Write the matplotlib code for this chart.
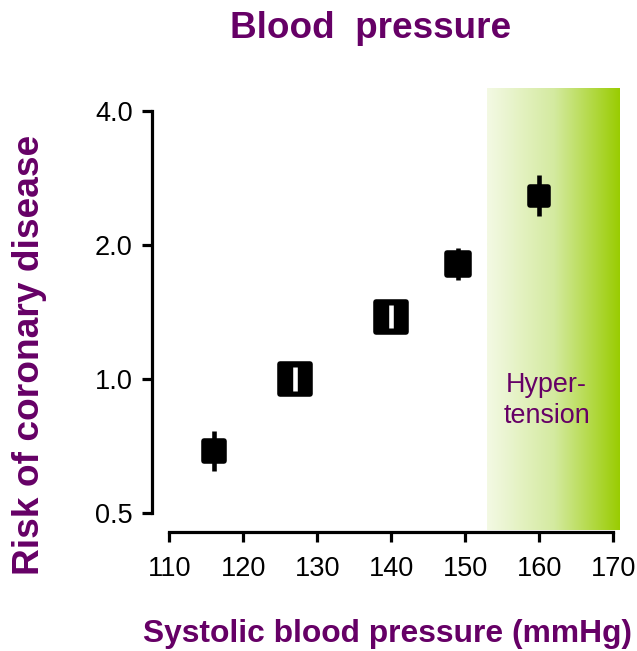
import numpy as np
import matplotlib
matplotlib.use("Agg")
import matplotlib.pyplot as plt
from matplotlib.markers import MarkerStyle
from matplotlib.colors import LinearSegmentedColormap

# data
bp = [116, 127, 140, 149, 160]
risk = [0.69, 1.0, 1.38, 1.81, 2.58]
risk_lo = [0.62, 0.94, 1.30, 1.67, 2.32]
risk_hi = [0.765, 1.065, 1.47, 1.97, 2.87]
box_size = [14, 22, 22, 16, 13]          # marker size (pt), roughly study weight
bar_color = ["black", "white", "white", "black", "black"]

hyper_start, hyper_end = 152.9, 170.9
purple = "#660066"

plt.rcParams["font.family"] = ["Liberation Sans", "DejaVu Sans"]

fig = plt.figure(figsize=(6.37, 6.51), dpi=100)
ax = fig.add_axes([0.2386, 0.1828, 0.7358, 0.688])
ax.set_yscale("log")
ax.set_xlim(107.66, 171)
ax.set_ylim(0.453, 4.6)

# hypertension band, pale -> bright green
cmap = LinearSegmentedColormap.from_list("hyp", ["#f3f9e3", "#d4eaa0", "#99cc00"])
grad = np.linspace(0, 1, 256).reshape(1, -1)
ax.imshow(grad, cmap=cmap, aspect="auto", extent=[hyper_start, hyper_end, 0.458, 4.53],
          zorder=0, interpolation="bilinear")
ax.text(161.0, 0.895, "Hyper-\ntension", color=purple, fontsize=19.4, ha="center",
        va="center", linespacing=1.25)

sq = MarkerStyle("s", joinstyle="round")
for x, y, lo, hi, s, c in zip(bp, risk, risk_lo, risk_hi, box_size, bar_color):
    ax.plot(x, y, marker=sq, markersize=s, color="black", mew=4, zorder=3)
    ax.errorbar(x, y, yerr=[[y - lo], [hi - y]], fmt="none", ecolor=c,
                elinewidth=3.3, capsize=0, zorder=4)

ax.set_yticks([0.5, 1.0, 2.0, 4.0])
ax.set_yticklabels(["0.5", "1.0", "2.0", "4.0"])
ax.yaxis.set_minor_locator(matplotlib.ticker.NullLocator())
ax.set_xticks(range(110, 171, 10))

for side in ["top", "right"]:
    ax.spines[side].set_visible(False)
ax.spines["left"].set_bounds(0.5, 4.0)
ax.spines["bottom"].set_bounds(110, 170)
for side in ["left", "bottom"]:
    ax.spines[side].set_linewidth(2.3)
ax.tick_params(axis="both", direction="out", length=7, width=2.3, labelsize=19.5)
ax.tick_params(axis="x", pad=10)
ax.tick_params(axis="y", pad=7)
ax.patch.set_alpha(0)

fig.text(0.581, 0.956, "Blood  pressure", color=purple, fontsize=26.6,
         fontweight="bold", ha="center", va="center")
fig.text(0.047, 0.4547, "Risk of coronary disease", color=purple, fontsize=26.7,
         fontweight="bold", ha="center", va="center", rotation=90)
fig.text(0.608, 0.026, "Systolic blood pressure (mmHg)", color=purple, fontsize=22.9,
         fontweight="bold", ha="center", va="center")

fig.savefig("out.png", dpi=100)
